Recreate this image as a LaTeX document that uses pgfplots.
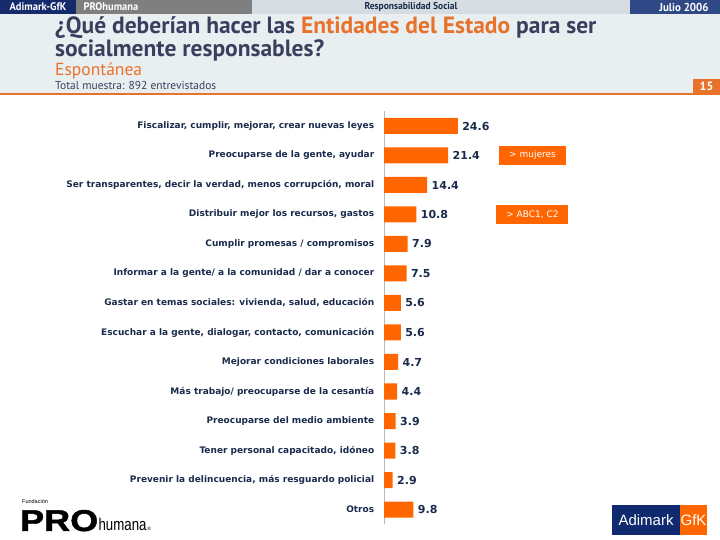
\documentclass[border=0pt]{standalone}
\usepackage{pgfplots}
\pgfplotsset{compat=1.18}
\usepackage{fontspec}
\setmainfont{DejaVu Sans}
\newfontfamily\titlefont{PT Sans}
\newfontfamily\headfont[FakeStretch=0.95]{PT Sans}
\newfontfamily\arialfont{Liberation Sans}
\newfontfamily\profont[FakeStretch=1.2,FakeBold=1.5]{Liberation Sans}
\newfontfamily\humfont[FakeStretch=0.78]{Liberation Sans}
\definecolor{barorange}{HTML}{FF6600}
\definecolor{navytext}{HTML}{1A2B4C}
\definecolor{titlecol}{HTML}{3B3F5E}
\definecolor{torange}{HTML}{E8722A}
\definecolor{topbg}{HTML}{E9EEF1}
\definecolor{hnavy}{HTML}{142A6B}
\definecolor{hnavytwo}{HTML}{2F4886}
\definecolor{hgrey}{HTML}{7F7F7F}
\definecolor{hlight}{HTML}{D5DDE3}
\definecolor{logonavy}{HTML}{0F2A6E}
\begin{document}
\begin{tikzpicture}[x=1pt,y=1pt]
\useasboundingbox (0,0) rectangle (720,540);
\fill[white] (0,0) rectangle (720,540);
% header background
\fill[topbg] (0,446) rectangle (720,526);
\fill[torange] (0,444.5) rectangle (720,446.5);
\fill[hnavy] (0,526) rectangle (76,540);
\fill[hgrey] (76,526) rectangle (252,540);
\fill[hlight] (252,526) rectangle (630,540);
\fill[hnavytwo] (630,526) rectangle (720,540);
\node[text=white,font=\headfont\bfseries\fontsize{11}{12}\selectfont] at (38,533) {Adimark-GfK};
\node[anchor=west,text=white,font=\headfont\bfseries\fontsize{11}{12}\selectfont] at (80,533) {PROhumana};
\node[text=navytext,font=\headfont\bfseries\fontsize{10}{11}\selectfont] at (411,533) {Responsabilidad Social};
\node[text=white,font=\headfont\bfseries\fontsize{11.5}{12}\selectfont] at (684,533) {Julio 2006};
% titles
\node[anchor=north west,inner sep=0,align=left,text=titlecol,font=\titlefont\bfseries\fontsize{23.5}{19.5}\selectfont] at (55,523.5) {¿Qué deberían hacer las \textcolor{torange}{Entidades del Estado} para ser\\socialmente responsables?};
\node[anchor=base west,inner sep=0,text=torange,font=\titlefont\fontsize{17.5}{18}\selectfont] at (55,464.5) {Espontánea};
\node[anchor=base west,inner sep=0,text=titlecol,font=\titlefont\fontsize{11.5}{12}\selectfont] at (55,450.5) {Total muestra: 892 entrevistados};
\fill[torange] (693,446.5) rectangle (720,461);
\node[text=white,font=\titlefont\bfseries\fontsize{12}{13}\selectfont] at (706.5,453.5) {15};
% chart
\begin{axis}[
  at={(384pt,15.75pt)}, anchor=south west,
  scale only axis, width=150pt, height=413pt,
  xbar, bar width=16pt,
  xmin=0, xmax=50, ymin=-0.5, ymax=13.5,
  y dir=reverse,
  axis x line=none, axis y line*=left,
  y axis line style={draw=gray!55, line width=0.8pt},
  ytick={0,...,13},
  yticklabels={
    {Fiscalizar, cumplir, mejorar, crear nuevas leyes},
    {Preocuparse de la gente, ayudar},
    {Ser transparentes, decir la verdad, menos corrupción, moral},
    {Distribuir mejor los recursos, gastos},
    {Cumplir promesas / compromisos},
    {Informar a la gente/ a la comunidad / dar a conocer},
    {Gastar en temas sociales: vivienda, salud, educación},
    {Escuchar a la gente, dialogar, contacto, comunicación},
    {Mejorar condiciones laborales},
    {Más trabajo/ preocuparse de la cesantía},
    {Preocuparse del medio ambiente},
    {Tener personal capacitado, idóneo},
    {Prevenir la delincuencia, más resguardo policial},
    {Otros}},
  ytick style={draw=none},
  yticklabel style={font=\bfseries\fontsize{9}{10}\selectfont, text=navytext, xshift=-2pt},
  clip=false,
  nodes near coords={\pgfmathprintnumber[fixed,fixed zerofill,precision=1,assume math mode=true]{\pgfplotspointmeta}},
  nodes near coords style={font=\bfseries\fontsize{11}{12}\selectfont, text=navytext, anchor=west, xshift=1pt},
]
\addplot[draw=none, fill=barorange] coordinates {
  (24.6,0) (21.4,1) (14.4,2) (10.8,3) (7.9,4) (7.5,5) (5.6,6)
  (5.6,7) (4.7,8) (4.4,9) (3.9,10) (3.8,11) (2.9,12) (9.8,13)};
\node[fill=barorange, text=white, minimum width=67pt, minimum height=19pt, inner sep=0, font=\fontsize{9}{10}\selectfont] at (axis cs:49.5,1) {> mujeres};
\node[fill=barorange, text=white, minimum width=72pt, minimum height=19pt, inner sep=0, font=\fontsize{9}{10}\selectfont] at (axis cs:49.5,3) {> ABC1, C2};
\end{axis}
% logos
\fill[logonavy] (612,5) rectangle (680,35);
\fill[barorange] (680,5) rectangle (707,35);
\node[text=white,font=\arialfont\fontsize{15}{16}\selectfont] at (646,20) {Adimark};
\node[text=white,font=\arialfont\fontsize{15}{16}\selectfont] at (693.5,20) {GfK};
\node[anchor=base west,inner sep=0,font=\arialfont\fontsize{5.5}{6}\selectfont] at (22,36) {Fundación};
\node[anchor=base west,inner sep=0,font=\profont\bfseries\fontsize{30}{31}\selectfont] (pro) at (20,9) {PRO};
\node[anchor=base west,inner sep=0,font=\humfont\fontsize{17}{18}\selectfont] (hum) at (pro.base east) {humana};
\node[anchor=base west,inner sep=0.5pt,font=\arialfont\fontsize{5}{6}\selectfont] at (hum.base east) {®};
\end{tikzpicture}
\end{document}
